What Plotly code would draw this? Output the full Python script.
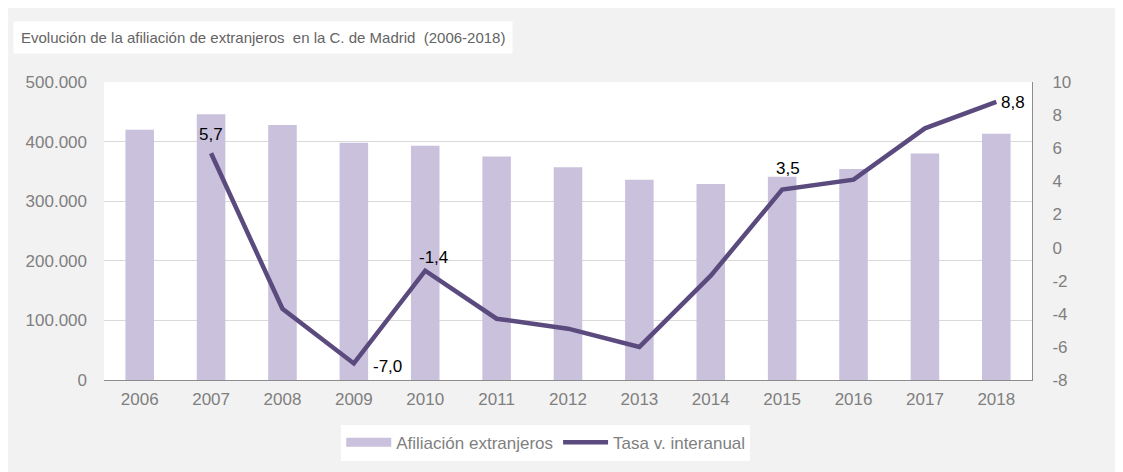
import plotly.graph_objects as go

years = ["2006", "2007", "2008", "2009", "2010", "2011", "2012",
         "2013", "2014", "2015", "2016", "2017", "2018"]
afiliacion = [420000, 446000, 428000, 398000, 393000, 375000, 357000,
              336000, 329000, 341000, 354000, 380000, 413000]
tasa = [None, 5.7, -3.7, -7.0, -1.4, -4.3, -4.9,
        -6.0, -1.7, 3.5, 4.1, 7.2, 8.8]
left_ticks = [0, 100000, 200000, 300000, 400000, 500000]
right_ticks = [-8, -6, -4, -2, 0, 2, 4, 6, 8, 10]
# which points carry a data label
labelled_years = ["2007", "2009", "2010", "2015", "2018"]
label_shift = {"2007": (0, 19), "2009": (34, -3), "2010": (8, 13),
               "2015": (6, 21), "2018": (17, -1)}

FONT = "Liberation Sans, Arial, sans-serif"
GREY = "#7f7f7f"
BAR_COLOR = "#cac1dc"
LINE_COLOR = "#5b4a7e"

fig = go.Figure()
fig.add_trace(go.Bar(
    x=years, y=afiliacion, name="Afiliación extranjeros",
    marker=dict(color=BAR_COLOR, line=dict(width=0)),
    yaxis="y", showlegend=False,
))
# legend proxy giving the wide rectangular swatch of the bar series
fig.add_trace(go.Scatter(
    x=[None], y=[None], name="Afiliación extranjeros", mode="lines",
    line=dict(color=BAR_COLOR, width=9), yaxis="y",
))
fig.add_trace(go.Scatter(
    x=years, y=tasa, name="Tasa v. interanual",
    mode="lines",
    line=dict(color=LINE_COLOR, width=4.5),
    yaxis="y2",
))

annotations = []
for yr in labelled_years:
    i = years.index(yr)
    v = tasa[i]
    dx, dy = label_shift[yr]
    annotations.append(dict(
        x=i, y=v, xref="x", yref="y2", text=f"{v:.1f}".replace(".", ","),
        showarrow=False, xanchor="center", yanchor="middle",
        xshift=dx, yshift=dy,
        font=dict(color="#000000", size=17, family=FONT),
    ))
annotations.append(dict(
    text="Evolución de la afiliación de extranjeros  en la C. de Madrid  (2006-2018)",
    xref="paper", yref="paper", x=-0.098, y=1.148, xanchor="left", yanchor="middle",
    showarrow=False, bgcolor="#ffffff", borderpad=7,
    font=dict(size=15, color="#646464", family=FONT),
))

fig.update_layout(
    width=1123, height=472,
    paper_bgcolor="#f2f2f2", plot_bgcolor="#ffffff",
    margin=dict(l=96, r=99, t=74, b=100, autoexpand=False),
    separators=",.",
    font=dict(family=FONT, size=17, color=GREY),
    bargap=0.6,
    showlegend=True,
    legend=dict(
        orientation="h", x=0.476, xanchor="center", y=-0.15, yanchor="top",
        bgcolor="#ffffff", font=dict(size=17, color=GREY),
        itemwidth=45, tracegroupgap=0, borderwidth=0,
    ),
    xaxis=dict(
        type="category",
        showgrid=False, showline=True, linecolor="#8c8c8c", linewidth=1,
        ticks="", tickfont=dict(size=17, color=GREY), automargin=False,
        ticklabelstandoff=4,
    ),
    yaxis=dict(
        range=[0, 500000], tickvals=left_ticks, tickformat=",.0f",
        showgrid=True, gridcolor="#d9d9d9", gridwidth=1,
        zeroline=False, showline=False, ticks="",
        tickfont=dict(size=17, color=GREY), ticklabelstandoff=16,
        automargin=False,
    ),
    yaxis2=dict(
        range=[-8, 10], tickvals=right_ticks,
        ticktext=[str(t) for t in right_ticks],
        overlaying="y", side="right",
        showgrid=False, zeroline=False, showline=True, linecolor="#8c8c8c",
        linewidth=1, ticks="", tickfont=dict(size=17, color=GREY),
        ticklabelstandoff=16, automargin=False,
    ),
    annotations=annotations,
)

fig.write_html("out.html")
